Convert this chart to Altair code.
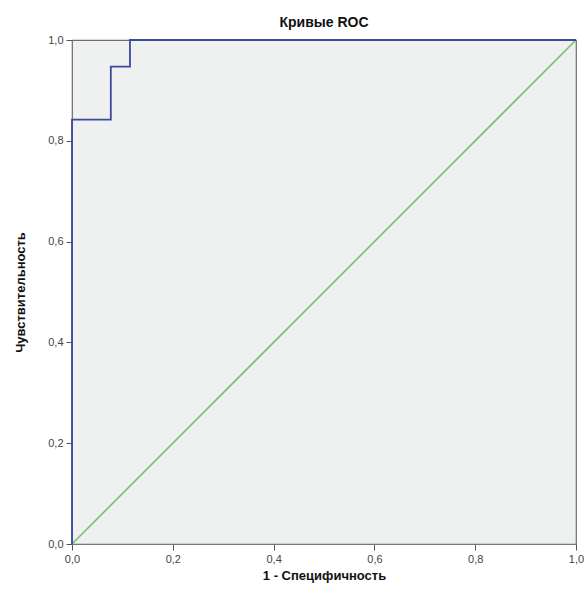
import altair as alt
import pandas as pd

# ROC curve corners (1 - specificity, sensitivity)
roc_fpr = [0.0, 0.0, 0.077, 0.077, 0.115, 0.115, 1.0]
roc_tpr = [0.0, 0.842, 0.842, 0.947, 0.947, 1.0, 1.0]
# reference diagonal
diag_x = [0.0, 1.0]
diag_y = [0.0, 1.0]
ticks = [0.0, 0.2, 0.4, 0.6, 0.8, 1.0]

roc = pd.DataFrame({"x": roc_fpr, "y": roc_tpr, "o": list(range(len(roc_fpr)))})
diag = pd.DataFrame({"x": diag_x, "y": diag_y, "o": [0, 1]})

lbl = "replace(format(datum.value, '.1f'), '.', ',')"

xax = alt.Axis(values=ticks, labelExpr=lbl, grid=False, tickSize=6, tickColor="#555555",
               domainColor="#777777", labelFont="Liberation Sans", labelFontSize=11,
               labelColor="#444444", labelPadding=3, labelFlush=False,
               title="1 - Специфичность",
               titleFont="Liberation Sans", titleFontSize=13, titleFontWeight="bold",
               titleColor="#111111", titleX=252, titleY=31, titleBaseline="middle",
               titleAlign="center")
yax = alt.Axis(values=ticks, labelExpr=lbl, grid=False, tickSize=6, tickColor="#555555",
               domainColor="#777777", labelFont="Liberation Sans", labelFontSize=11,
               labelColor="#444444", labelPadding=3, labelFlush=False,
               title="Чувствительность",
               titleFont="Liberation Sans", titleFontSize=13, titleFontWeight="bold",
               titleColor="#111111", titleX=-52, titleY=252, titleBaseline="middle",
               titleAlign="center", titleAngle=270)

xs = alt.Scale(domain=[0, 1], nice=False)
ys = alt.Scale(domain=[0, 1], nice=False)

diag_line = alt.Chart(diag).mark_line(color="#74c26b", strokeWidth=1.6).encode(
    x=alt.X("x:Q", scale=xs, axis=xax),
    y=alt.Y("y:Q", scale=ys, axis=yax),
    order="o:Q",
)
roc_line = alt.Chart(roc).mark_line(color="#3b4a9e", strokeWidth=1.8).encode(
    x=alt.X("x:Q", scale=xs),
    y=alt.Y("y:Q", scale=ys),
    order="o:Q",
)

chart = (diag_line + roc_line).properties(
    width=504, height=504,
    title=alt.TitleParams("Кривые ROC", font="Liberation Sans", fontSize=14,
                          fontWeight="bold", color="#111111", offset=4, anchor="middle"),
    autosize=alt.AutoSizeParams(type="none"),
    padding={"left": 72, "top": 40, "right": 9, "bottom": 54},
    background="white",
).configure_view(fill="#eff1f1", stroke="#6e6e6e", strokeWidth=1.2)

chart.save("out.html", embed_options={"renderer": "svg", "actions": False})
